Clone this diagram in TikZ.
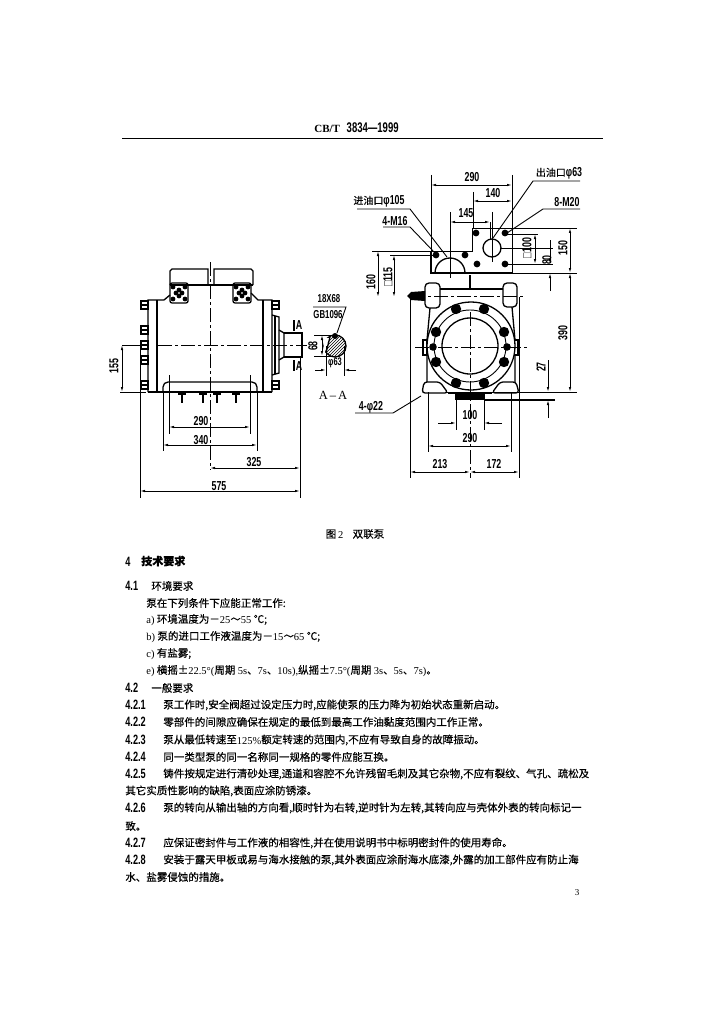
\documentclass[tikz,border=0pt]{standalone}
\usepackage{fontspec}
\usetikzlibrary{arrows.meta,patterns}
\setmainfont[FakeBold=0.35]{Noto Sans CJK SC}
\newfontfamily\numfont[FakeStretch=0.68]{Liberation Sans}
\newfontfamily\latfont{Liberation Serif}
\newcommand{\lat}[1]{\raisebox{-.8pt}{\latfont #1}}
\newcommand{\num}[2]{\makebox[#1pt][l]{\raisebox{-1pt}{\numfont\bfseries\fontsize{13.5}{13.5}\selectfont #2}}}
\begin{document}
\begin{tikzpicture}[x=1pt, y=-1pt, line width=.7pt,
    dimtext/.style = {font=\numfont\bfseries\fontsize{13}{13}\selectfont, inner sep=0pt},
    dimline/.style = {{Latex[length=5pt,width=2.4pt]}-{Latex[length=5pt,width=2.4pt]}, line width=.8pt},
    onearrow/.style = {-{Latex[length=5pt,width=2.4pt]}, line width=.8pt},
    ext/.style = {line width=.6pt},
    heavy/.style = {line width=1.3pt},
    centre/.style = {line width=.8pt, dash pattern=on 14pt off 3pt on 3pt off 3pt},
    body/.style = {anchor=west, inner sep=0pt, font=\fontsize{10.5}{11}\selectfont},
    ]
    \useasboundingbox (0,0) rectangle (724,1024);

    % header
    \node[inner sep=0pt, anchor=west] (head) at (314,128) {{\latfont\bfseries\fontsize{11}{11}\selectfont CB/T}\ \ \ {\numfont\bfseries\fontsize{14}{14}\selectfont 3834—1999}};
    \draw[line width=1pt] (122,139) -- (603,139);

    %side view
    \draw[heavy] (170,285) -- (170,271) -- (172,269) -- (208,269) -- (208,285);
    \draw[heavy] (214,285) -- (214,269) -- (251,269) -- (253,271) -- (253,285);
    \draw[heavy] (170,285) -- (253,285);
    \draw[heavy,rounded corners=2pt] (170,283) rectangle (188,303);
    \draw[heavy,rounded corners=2pt] (233,283) rectangle (251,303);
    \foreach \cx in {179,242} {
        \foreach \dx/\dy in {-6/-6, 6/-6, -6/6, 6/6, -3/0, 3/0, 0/-3, 0/3}
            \fill (\cx+\dx,293+\dy) circle (2.4);
    }
    \draw[heavy] (148,392) -- (148,300) -- (164,300) -- (170,295);
    \draw[heavy] (272,392) -- (272,300) -- (258,300) -- (251,293);
    \draw[heavy] (157,300) -- (157,392);
    \draw[heavy] (263,300) -- (263,392);
    \draw[heavy] (148,392) -- (272,392);
    \draw[heavy,rounded corners=5pt] (163,392) -- (163,382) -- (257,382) -- (257,392);
    \draw[heavy] (272,315) -- (279,317) -- (279,373) -- (272,375);
    \draw[heavy] (275,316) -- (275,374);
    \draw[heavy] (279,330) -- (284,333) -- (284,357) -- (279,360);
    \draw[heavy] (284,333) -- (302,333) -- (302,357) -- (284,357);
    \foreach \by in {305,330,345,360,385}
        \draw[heavy,fill=white] (141,\by-4) rectangle (148,\by+4) (141,\by) -- (148,\by);
    \foreach \by in {305,385}
        \draw[heavy,fill=white] (272,\by-4) rectangle (279,\by+4) (272,\by) -- (279,\by);
    \foreach \bx in {182,203,217,236} {
        \draw[heavy] (\bx-4,394) -- (\bx+4,394);
        \draw[heavy] (\bx,392) -- (\bx,403);
    }
    \draw[centre] (210,262) -- (210,470);
    \draw[centre] (158,345) -- (307,345);

    %side view dimensions
    \draw[ext] (122,345) -- (148,345);
    \draw[ext] (120,392) -- (146,392);
    \draw[dimline] (122,345) -- (122,392);
    \node[dimtext, rotate=90] (d155) at (114,366) {155};
    \draw[ext] (169,375) -- (169,434);
    \draw[ext] (250,375) -- (250,434);
    \draw[ext] (163,392) -- (163,451);
    \draw[ext] (257,392) -- (257,451);
    \draw[ext] (140,345) -- (140,498);
    \draw[ext] (300,357) -- (300,498);
    \draw[dimline] (169,427) -- (250,427);
    \draw[dimline] (163,445) -- (257,445);
    \draw[dimline] (210,468) -- (300,468);
    \draw[dimline] (140,491) -- (300,491);
    \node[dimtext] (d290a) at (201,421) {290};
    \node[dimtext] (d340) at (201,440) {340};
    \node[dimtext] (d325) at (254,462) {325};
    \node[dimtext] (d575) at (219,486) {575};

    %section marks
    \draw[heavy] (294,320) -- (294,331);
    \draw[heavy] (294,360) -- (294,371);
    \node[dimtext] (secup) at (299,325) {A};
    \node[dimtext] (seclo) at (299,366) {A};

    %section A-A
    \draw[heavy, pattern=north east lines, pattern color=black] (335,346) circle (11);
    \fill[white] (324,338) -- (329,338) -- (325,352) -- (324,352);
    \draw[heavy] (330,337) -- (326,353);
    \fill (335,336) circle (3);
    \draw[line width=.9pt] (313,307) -- (346,307) -- (337,333);
    \node[dimtext, font=\numfont\bfseries\fontsize{11.5}{12}\selectfont] (keya) at (329,299) {18X68};
    \node[dimtext, font=\numfont\bfseries\fontsize{11.5}{12}\selectfont] (keyb) at (328,315) {GB1096};
    \draw[ext] (314,335) -- (332,335);
    \draw[ext] (314,356) -- (332,356);
    \draw[dimline] (322,335) -- (322,356);
    \node[dimtext, rotate=90] (d68) at (313,346) {68};
    \draw[ext] (326,346) -- (326,376);
    \draw[ext] (344,346) -- (344,376);
    \draw[onearrow] (315,370) -- (326,370);
    \draw[onearrow] (356,370) -- (344,370);
    \node[dimtext, font=\numfont\bfseries\fontsize{11}{11}\selectfont] (d63) at (335,363) {φ63};
    \node[inner sep=0pt, font=\latfont\fontsize{12.5}{12.5}\selectfont] (secaa) at (333,395) {A\,–\,A};

    %port flange
    \draw (430,273) -- (430,251) -- (472,251) -- (472,228) -- (512,228) -- (512,273);
    \draw[heavy] (430,273) -- (512,273);
    \draw[heavy] (435,273) arc[start angle=180, end angle=360, radius=15];
    \draw[heavy] (492,248) circle (9);
    \draw[line width=.8pt] (450,250) -- (450,278);
    \draw[line width=.8pt] (492,212) -- (492,262);
    \foreach \bx/\by in {436/255, 465/255, 476/233, 505/233, 477/264, 505/264}
        \fill (\bx,\by) circle (3.4);

    %pump housing
    \draw[heavy,rounded corners=4pt] (425,308) rectangle (440,283);
    \draw[heavy,rounded corners=4pt] (503,307) rectangle (517,283);
    \draw[heavy] (440,289) -- (470,289) -- (470,275);
    \draw[heavy] (470,289) -- (503,289);
    \fill (407,296) -- (411,292) -- (425,291) -- (425,301) -- (411,300) -- cycle;
    \draw[heavy] (430,308) -- (427,340) -- (427,382);
    \draw[heavy] (512,307) -- (515,340) -- (515,382);
    \draw[heavy,rounded corners=3pt] (448,393) -- (440,382) -- (424,382) -- (422,393) -- cycle;
    \draw[heavy,rounded corners=3pt] (492,393) -- (500,382) -- (516,382) -- (519,393) -- cycle;
    \draw[heavy,fill=white] (423,340) rectangle (427,355);
    \draw[heavy,fill=white] (514,340) rectangle (518,355);
    \draw[heavy,fill=white] (471,346) circle (44);
    \draw[line width=.9pt] (470,346) circle (36);
    \draw[heavy] (470,346) circle (28);
    \foreach \bx/\by in {456/309, 484/309, 436/332, 504/332, 436/362, 504/362, 456/383, 484/383}
        \fill (\bx,\by) circle (5.2);
    \foreach \bx/\by in {433/347, 507/347}
        \fill (\bx,\by) circle (3.8);
    \fill (455,393) rectangle (485,400);
    \draw[heavy] (448,393) -- (492,393);
    \draw[centre] (415,347) -- (527,347);
    \draw[centre] (411,296) -- (523,296);
    \draw[centre] (470,312) -- (470,478);

    %top dimensions
    \draw[ext] (431,175) -- (431,273);
    \draw[ext] (512,175) -- (512,228);
    \draw[ext] (473,192) -- (473,228);
    \draw[ext] (450,212) -- (450,250);
    \draw[ext] (490,222) -- (490,240);
    \draw[dimline] (431,185) -- (512,185);
    \draw[dimline] (473,201) -- (512,201);
    \draw[dimline] (450,222) -- (490,222);
    \node[dimtext] (d290b) at (472,177) {290};
    \node[dimtext] (d140) at (493,193) {140};
    \node[dimtext] (d145) at (466,213) {145};

    %leaders
    \draw[line width=.9pt] (580,181) -- (533,181) -- (493,238);
    \draw[line width=.9pt] (580,209) -- (543,209) -- (507,233);
    \draw[line width=.9pt] (357,209) -- (410,209) -- (447,257);
    \draw[line width=.9pt] (383,227) -- (410,227) -- (435,253);
    \draw[line width=.9pt] (355,413) -- (393,413) -- (421,396);
    \node[dimtext, font=\fontsize{10}{10}\selectfont] (lout) at (559,173) {出油口{\numfont\bfseries\fontsize{13}{13}\selectfont φ63}};
    \node[dimtext] (lmb) at (567,202) {8-M20};
    \node[dimtext, font=\fontsize{10}{10}\selectfont] (lin) at (379,201) {进油口{\numfont\bfseries\fontsize{13}{13}\selectfont φ105}};
    \node[dimtext] (lmc) at (395,221) {4-M16};
    \node[dimtext] (lmd) at (371,407) {4-φ22};

    %right dimensions
    \draw[ext] (507,228) -- (577,228);
    \draw[ext] (430,273) -- (577,273);
    \draw[ext] (507,234) -- (538,234);
    \draw[ext] (507,264) -- (553,264);
    \draw[ext] (500,248) -- (553,248);
    \draw[ext] (372,251) -- (430,251);
    \draw[ext] (390,255) -- (433,255);
    \draw[ext] (445,392) -- (577,392);
    \draw[line width=1.2pt] (485,400) -- (555,400);
    \draw[dimline] (535,234) -- (535,264);
    \draw[onearrow] (550,240) -- (550,264);
    \draw[onearrow] (550,291) -- (550,273);
    \draw[dimline] (570,228) -- (570,273);
    \draw[dimline] (570,273) -- (570,392);
    \draw[dimline] (378,251) -- (378,297);
    \draw[dimline] (394,255) -- (394,297);
    \draw[onearrow] (548,360) -- (548,392);
    \draw[onearrow] (548,418) -- (548,400);
    \node[dimtext, rotate=90] (d100a) at (527,248) {□100};
    \node[dimtext, rotate=90] (d80) at (547,260) {80};
    \node[dimtext, rotate=90] (d150) at (563,248) {150};
    \node[dimtext, rotate=90] (d390) at (563,333) {390};
    \node[dimtext, rotate=90] (d160) at (371,282) {160};
    \node[dimtext, rotate=90] (d115) at (388,277) {□115};
    \node[dimtext, rotate=90] (d27) at (541,367) {27};

    %bottom dimensions
    \draw[ext] (410,297) -- (410,478);
    \draw[ext] (519,297) -- (519,478);
    \draw[ext] (428,392) -- (428,452);
    \draw[ext] (511,392) -- (511,452);
    \draw[ext] (456,400) -- (456,430);
    \draw[ext] (484,400) -- (484,430);
    \draw[onearrow] (438,423) -- (456,423);
    \draw[onearrow] (502,423) -- (484,423);
    \draw[dimline] (428,446) -- (511,446);
    \draw[dimline] (410,472) -- (470,472);
    \draw[dimline] (470,472) -- (519,472);
    \node[dimtext] (d100b) at (470,415) {100};
    \node[dimtext] (d290c) at (470,438) {290};
    \node[dimtext] (d213) at (440,464) {213};
    \node[dimtext] (d172) at (494,464) {172};

    %caption and text
    \node[inner sep=0pt, font=\fontsize{10.5}{11}\selectfont] (cap) at (355,534) {图\,\lat{2}\ \ \ \ 双联泵};
    \node[body, font=\fontsize{11}{11}\selectfont\bfseries] (t4) at (125,561) {\num{16}{4}技术要求};
    \node[body] (t41) at (125,586) {\num{26}{4.1}环境要求};
    \node[body] (t41a) at (146,603) {泵在下列条件下应能正常工作:};
    \node[body] (ta) at (146,620) {\lat{a)} 环境温度为－\lat{25}～\lat{55} ℃;};
    \node[body] (tb) at (146,637) {\lat{b)} 泵的进口工作液温度为－\lat{15}～\lat{65} ℃;};
    \node[body] (tc) at (146,654) {\lat{c)} 有盐雾;};
    \node[body] (te) at (146,671) {\lat{e)} 横摇±\lat{22.5°(}周期 \lat{5s}、\lat{7s}、\lat{10s),}纵摇±\lat{7.5°(}周期 \lat{3s}、\lat{5s}、\lat{7s)}。};
    \node[body] (t42) at (125,688) {\num{26}{4.2}一般要求};
    \node[body] (t421) at (125,705) {\num{38}{4.2.1}泵工作时,安全阀超过设定压力时,应能使泵的压力降为初始状态重新启动。};
    \node[body] (t422) at (125,722) {\num{38}{4.2.2}零部件的间隙应确保在规定的最低到最高工作油黏度范围内工作正常。};
    \node[body] (t423) at (125,740) {\num{38}{4.2.3}泵从最低转速至\lat{125\%}额定转速的范围内,不应有导致自身的故障振动。};
    \node[body] (t424) at (125,757) {\num{38}{4.2.4}同一类型泵的同一名称同一规格的零件应能互换。};
    \node[body] (t425) at (125,774) {\num{38}{4.2.5}铸件按规定进行清砂处理,通道和容腔不允许残留毛刺及其它杂物,不应有裂纹、气孔、疏松及};
    \node[body] (t425b) at (125,791) {其它实质性影响的缺陷,表面应涂防锈漆。};
    \node[body] (t426) at (125,808) {\num{38}{4.2.6}泵的转向从输出轴的方向看,顺时针为右转,逆时针为左转,其转向应与壳体外表的转向标记一};
    \node[body] (t426b) at (125,826) {致。};
    \node[body] (t427) at (125,843) {\num{38}{4.2.7}应保证密封件与工作液的相容性,并在使用说明书中标明密封件的使用寿命。};
    \node[body] (t428) at (125,860) {\num{38}{4.2.8}安装于露天甲板或易与海水接触的泵,其外表面应涂耐海水底漆,外露的加工部件应有防止海};
    \node[body] (t428b) at (125,877) {水、盐雾侵蚀的措施。};
    \node[inner sep=0pt, font=\latfont\fontsize{9}{9}\selectfont] (pageno) at (577,893) {3};
\end{tikzpicture}
\end{document}
